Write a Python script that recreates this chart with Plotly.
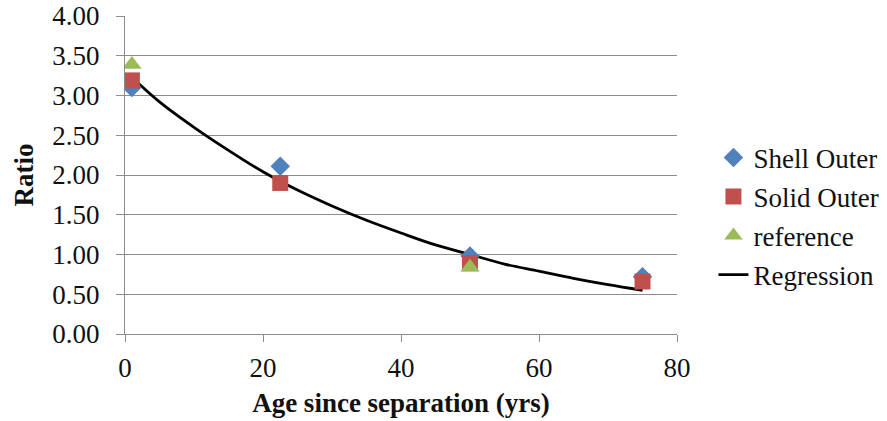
import plotly.graph_objects as go

# Measured ratios by age since separation
shell_age = [1, 22.5, 50, 75]
shell_ratio = [3.10, 2.11, 0.98, 0.72]

solid_age = [1, 22.5, 50, 75]
solid_ratio = [3.19, 1.90, 0.89, 0.66]

ref_age = [1, 50]
ref_ratio = [3.39, 0.84]

# Fitted regression curve
reg_age = [1, 5, 10, 15, 20, 25, 30, 35, 40, 45, 50, 55, 60, 65, 70, 75]
reg_ratio = [3.23, 2.92, 2.60, 2.31, 2.04, 1.81, 1.61, 1.43, 1.27, 1.12,
             1.00, 0.88, 0.79, 0.70, 0.62, 0.55]

y_ticks = [0, 0.5, 1.0, 1.5, 2.0, 2.5, 3.0, 3.5, 4.0]
x_ticks = [0, 20, 40, 60, 80]

FONT = "Liberation Serif"
GRID = "#8c8c8c"
TEXT = "#111111"
SIZE = 27

fig = go.Figure()

fig.add_trace(go.Scatter(
    x=reg_age, y=reg_ratio, mode="lines", name="Regression",
    line=dict(color="black", width=2.8, shape="spline"),
    legendrank=4, legendgroup="d",
))
fig.add_trace(go.Scatter(
    x=shell_age, y=shell_ratio, mode="markers", name="Shell Outer",
    marker=dict(symbol="diamond", size=15, color="#4F81BD", line=dict(width=0)),
    legendrank=1, legendgroup="a",
))
fig.add_trace(go.Scatter(
    x=solid_age, y=solid_ratio, mode="markers", name="Solid Outer",
    marker=dict(symbol="square", size=16, color="#C0504D", line=dict(width=0)),
    legendrank=2, legendgroup="b",
))
fig.add_trace(go.Scatter(
    x=ref_age, y=ref_ratio, mode="markers", name="reference",
    marker=dict(symbol="triangle-up", size=17, color="#9BBB59", line=dict(width=0)),
    legendrank=3, legendgroup="c",
))

fig.update_layout(
    width=887, height=421,
    margin=dict(l=125, r=210, t=16, b=87, autoexpand=False),
    paper_bgcolor="white", plot_bgcolor="white",
    font=dict(family=FONT, size=SIZE, color=TEXT),
    showlegend=True,
    legend=dict(
        x=1.066, y=0.37, xanchor="left", yanchor="middle",
        font=dict(family=FONT, size=SIZE, color=TEXT),
        bgcolor="rgba(0,0,0,0)", itemwidth=30,
        tracegroupgap=1,
    ),
)

fig.update_xaxes(
    range=[0, 80], tickvals=x_ticks, ticktext=[str(v) for v in x_ticks],
    showgrid=False, zeroline=False, automargin=False,
    showline=True, linecolor=GRID, linewidth=1.3,
    ticks="outside", ticklen=7, tickcolor=GRID, tickwidth=1.3,
    ticklabelstandoff=2,
    tickfont=dict(family=FONT, size=SIZE, color=TEXT),
    title=dict(text="<b>Age since separation (yrs)</b>",
               font=dict(family=FONT, size=SIZE, color=TEXT), standoff=11),
)
fig.update_yaxes(
    range=[0, 4], tickvals=y_ticks, ticktext=[f"{v:.2f}" for v in y_ticks],
    showgrid=True, gridcolor=GRID, gridwidth=1.3, zeroline=False, automargin=False,
    showline=True, linecolor=GRID, linewidth=1.3,
    ticks="outside", ticklen=8, tickcolor=GRID, tickwidth=1.3,
    ticklabelstandoff=11,
    tickfont=dict(family=FONT, size=SIZE, color=TEXT),
    title=dict(text="<b>Ratio</b>",
               font=dict(family=FONT, size=SIZE, color=TEXT), standoff=10),
)

fig.write_html("out.html")
